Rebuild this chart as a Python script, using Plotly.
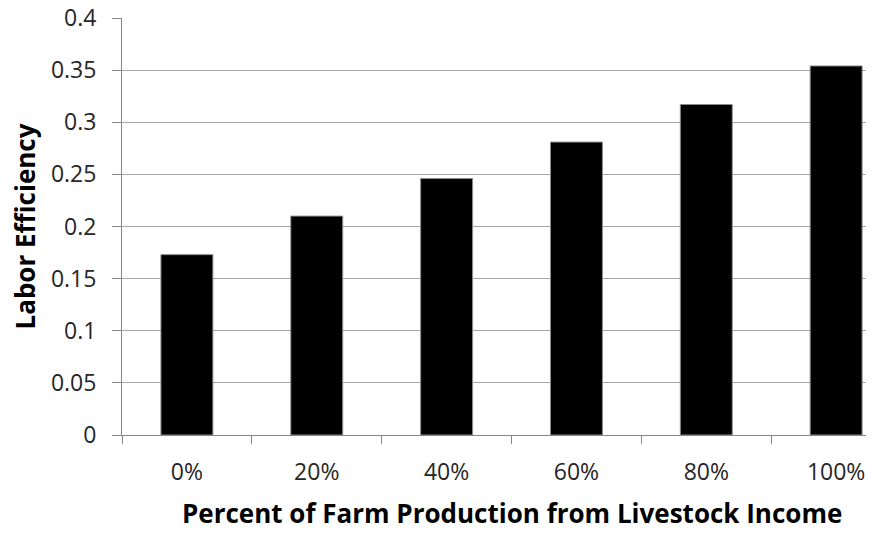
import plotly.graph_objects as go

# Share of farm production coming from livestock income
categories = ["0%", "20%", "40%", "60%", "80%", "100%"]
labor_efficiency = [0.173, 0.210, 0.246, 0.281, 0.317, 0.354]

y_ticks = [0, 0.05, 0.1, 0.15, 0.2, 0.25, 0.3, 0.35, 0.4]
y_tick_text = ["0", "0.05", "0.1", "0.15", "0.2", "0.25", "0.3", "0.35", "0.4"]

FONT = "Open Sans"
GRID = "#a6a6a6"
AXIS = "#868686"
TEXT = "#262626"

fig = go.Figure(
    go.Bar(
        x=categories,
        y=labor_efficiency,
        width=0.4,
        marker=dict(color="black", line=dict(color="#8c8c8c", width=1)),
    )
)

fig.update_layout(
    width=871,
    height=533,
    margin=dict(l=122, r=5, t=18, b=98),
    paper_bgcolor="white",
    plot_bgcolor="white",
    showlegend=False,
    font=dict(family=FONT, color=TEXT),
)

fig.update_xaxes(
    type="category",
    range=[-0.5, 5.23],
    automargin=False,
    showgrid=False,
    showline=True,
    linecolor=AXIS,
    linewidth=1,
    ticks="outside",
    tickson="boundaries",
    ticklen=8,
    tickcolor=AXIS,
    tickfont=dict(family=FONT, size=23, color=TEXT),
    ticklabelstandoff=16,
)

fig.update_yaxes(
    range=[0, 0.4],
    automargin=False,
    tickvals=y_ticks,
    ticktext=y_tick_text,
    showgrid=True,
    gridcolor=GRID,
    gridwidth=1,
    zeroline=False,
    showline=True,
    linecolor=AXIS,
    linewidth=1,
    ticks="outside",
    ticklen=9,
    tickcolor=AXIS,
    tickfont=dict(family=FONT, size=23, color=TEXT),
    ticklabelstandoff=11,
)

fig.add_annotation(
    text="<b>Percent of Farm Production from Livestock Income</b>",
    xref="x", yref="paper", x=2.5, y=0,
    xanchor="center", yanchor="middle", yshift=-78,
    showarrow=False,
    font=dict(family=FONT, size=26, color="black"),
)
fig.add_annotation(
    text="<b>Labor Efficiency</b>",
    xref="paper", yref="paper", x=0, y=0.5,
    xanchor="center", yanchor="middle", xshift=-98,
    textangle=-90,
    showarrow=False,
    font=dict(family=FONT, size=26, color="black"),
)

fig.write_html("out.html")
